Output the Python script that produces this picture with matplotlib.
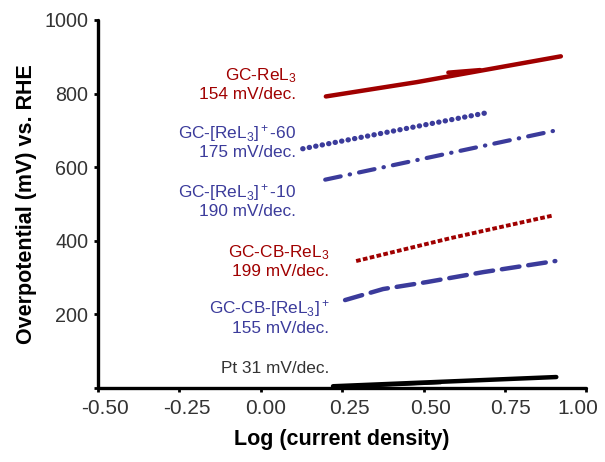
import matplotlib
matplotlib.use("Agg")
import matplotlib.pyplot as plt
from matplotlib.transforms import ScaledTranslation

plt.rcParams['font.family'] = ['Liberation Sans', 'DejaVu Sans']
plt.rcParams['mathtext.fontset'] = 'custom'
plt.rcParams['mathtext.rm'] = 'Liberation Sans'
plt.rcParams['mathtext.it'] = 'Liberation Sans:italic'
plt.rcParams['mathtext.bf'] = 'Liberation Sans:bold'

RED = '#A00000'
BLUE = '#3B3B9B'

# Data (log current density, overpotential mV)
rel3_x = [0.200, 0.480, 0.922]
rel3_y = [792, 831, 901]
rel3_hook_x = [0.576, 0.674]
rel3_hook_y = [857, 864]

rel3p60_x = [0.129, 0.690]
rel3p60_y = [650, 747]

rel3p10_x = [0.198, 0.908]
rel3p10_y = [566, 700]

cb_rel3_x = [0.293, 0.582, 0.899]
cb_rel3_y = [345, 407, 469]

cb_rel3p_x = [0.259, 0.376, 0.511, 0.684, 0.905]
cb_rel3p_y = [239, 269, 288, 315, 345]

pt_x = [0.222, 0.908]
pt_y = [5, 30]
pt2_x = [0.222, 0.55]
pt2_y = [1, 14]

xticks = [-0.50, -0.25, 0.00, 0.25, 0.50, 0.75, 1.00]
yticks = [0, 200, 400, 600, 800, 1000]
ytick_labels = ['', '200', '400', '600', '800', '1000']

fig = plt.figure(figsize=(6.05, 4.62), dpi=100)
ax = fig.add_axes([0.162, 0.160, 0.807, 0.797])

ax.plot(rel3_x, rel3_y, color=RED, lw=3.2, solid_capstyle='round')
ax.plot(rel3_hook_x, rel3_hook_y, color=RED, lw=3.0, solid_capstyle='round')

ax.plot(rel3p60_x, rel3p60_y, color=BLUE, lw=3.8, linestyle=(0, (0.05, 1.2)),
        dash_capstyle='round')
ax.plot(rel3p10_x, rel3p10_y, color=BLUE, lw=3.0, linestyle=(0, (3.8, 2.2, 0.1, 2.2)),
        dash_capstyle='round')
ax.plot(cb_rel3_x, cb_rel3_y, color=RED, lw=2.8, linestyle=(0, (1.2, 0.6)))
ax.plot(cb_rel3p_x, cb_rel3p_y, color=BLUE, lw=3.2, linestyle=(0, (4.0, 2.0)),
        dash_capstyle='round')
ax.plot(pt_x, pt_y, color='black', lw=3.2, solid_capstyle='round')
ax.plot(pt2_x, pt2_y, color='black', lw=2.0)

labels = [
    (0.109, 836, 'GC-ReL$_3$', RED),
    (0.109, 784, '154 mV/dec.', RED),
    (0.109, 678, 'GC-[ReL$_3]^+$-60', BLUE),
    (0.109, 627, '175 mV/dec.', BLUE),
    (0.109, 518, 'GC-[ReL$_3]^+$-10', BLUE),
    (0.109, 467, '190 mV/dec.', BLUE),
    (0.210, 355, 'GC-CB-ReL$_3$', RED),
    (0.210, 304, '199 mV/dec.', RED),
    (0.210, 204, 'GC-CB-[ReL$_3]^+$', BLUE),
    (0.210, 149, '155 mV/dec.', BLUE),
    (0.210, 41, 'Pt 31 mV/dec.', '#333333'),
]
for x, y, t, c in labels:
    ax.text(x, y, t, color=c, fontsize=12.4, ha='right', va='baseline')

ax.set_xlim(-0.5, 1.0)
ax.set_ylim(0, 1000)
ax.set_xticks(xticks)
ax.set_xticklabels([f'{v:.2f}' for v in xticks])
ax.set_yticks(yticks)
ax.set_yticklabels(ytick_labels)

for s in ['top', 'right']:
    ax.spines[s].set_visible(False)
for s in ['left', 'bottom']:
    ax.spines[s].set_linewidth(2.4)
    ax.spines[s].set_capstyle('round')

ax.tick_params(axis='both', direction='out', length=3, width=2, colors='black',
               labelcolor='#333333', pad=4)
ax.tick_params(axis='x', labelsize=15, pad=5)
ax.tick_params(axis='y', labelsize=14.2)

shifts_px = [7, 7, 5, 7, 7, 6, -8]
for lab, sp in zip(ax.get_xticklabels(), shifts_px):
    lab.set_transform(lab.get_transform() + ScaledTranslation(sp / 100, 0, fig.dpi_scale_trans))

ax.set_xlabel('Log (current density)', fontsize=15.5, fontweight='bold', labelpad=8)
ax.set_ylabel('Overpotential (mV) vs. RHE', fontsize=15.5, fontweight='bold', labelpad=5)

fig.savefig('out.png', dpi=100)
